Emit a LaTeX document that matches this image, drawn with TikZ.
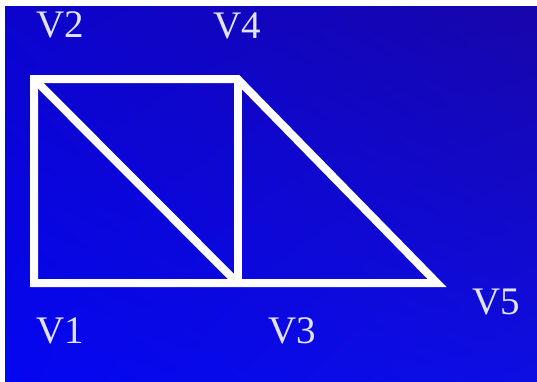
\documentclass[tikz,border=0pt]{standalone}
\usepackage{fontspec}
\setmainfont{Liberation Serif}
\usepackage{tkz-euclide}
\usetikzlibrary{shadings}
\definecolor{BgUL}{RGB}{12,4,205}
\definecolor{BgUR}{RGB}{24,6,170}
\definecolor{BgLL}{RGB}{4,6,240}
\definecolor{BgLR}{RGB}{14,14,226}
\definecolor{LabelClr}{RGB}{226,226,252}

\begin{document}
\begin{tikzpicture}[x=1pt,y=-1pt,
  vlabel/.style={text=LabelClr,font=\fontsize{39}{39}\selectfont,inner sep=0pt}]
\fill[white] (0,0) rectangle (537,381);
\shade[upper left=BgUL,upper right=BgUR,lower left=BgLL,lower right=BgLR]
  (5,6) rectangle (537,381);
\useasboundingbox (0,0) rectangle (537,381);
\tkzSetUpLine[line width=8pt,color=white]

\tkzDefPoints{34/283/V1,34/79/V2,237.5/283/V3,237.5/79/V4,437/283/V5}

% outline, then the inner edges
\tkzDrawPolygon[line join=miter](V1,V2,V4,V5)
\tkzDrawSegments(V2,V3 V4,V3)

\node[vlabel] (lV2) at (60,25) {V2};
\node[vlabel] (lV4) at (237,26) {V4};
\node[vlabel] (lV1) at (60,331) {V1};
\node[vlabel] (lV3) at (292,331) {V3};
\node[vlabel] (lV5) at (496,302) {V5};

\end{tikzpicture}
\end{document}
